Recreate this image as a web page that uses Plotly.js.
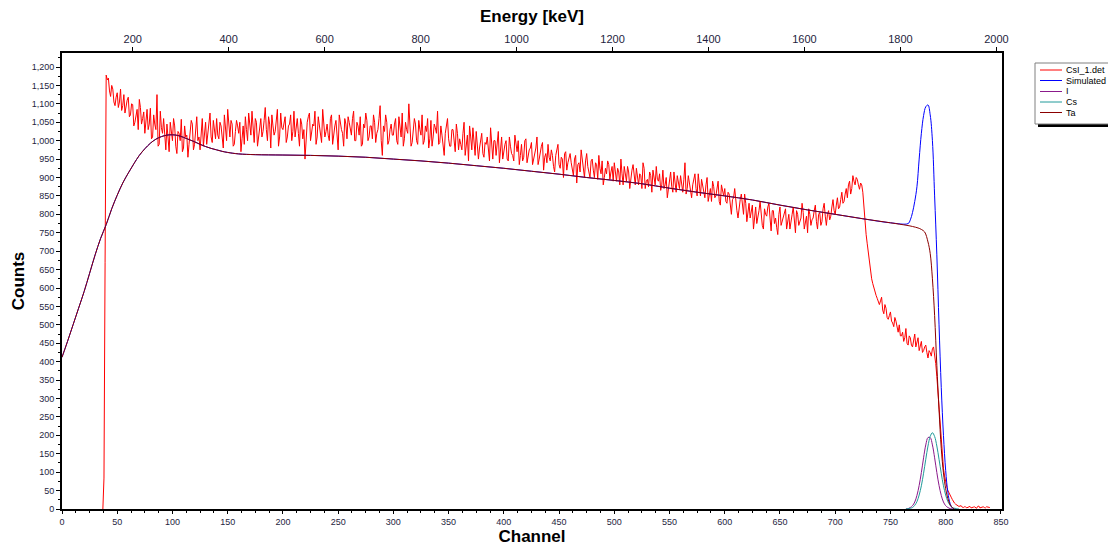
<!DOCTYPE html>
<html>
<head>
<meta charset="utf-8">
<script src="https://cdn.plot.ly/plotly-3.0.1.min.js"></script>
<style>
  html, body { margin: 0; padding: 0; background: #ffffff; }
  #chart { width: 1108px; height: 546px; }
</style>
</head>
<body>
<div id="chart"></div>
<script>
// ---------------- DATA ----------------
// Measured spectrum CsI_1.det: leading edge channels
const measHeadCh = [37, 38, 39];
const measHeadY  = [0, 84, 670];
// Measured spectrum, even channels 40..840 (10 values per row = 20 channels)
const measEvenStart = 40;
const measEvenY = [
  1178,1170,1120,1140,1095,1130,1105,1082,1125,1100, // 40
  1118,1070,1098,1050,1085,1112,1045,1078,1060,1030, // 60
  1088,1010,1045,1125, 990,1035,1060, 975,1015,1050, // 80
  1000,1040, 965,1020,1058, 980,1010, 955,1030,1045, // 100
   990,1065,1010,1035, 985,1050,1020,1075, 995,1030, // 120
  1060,1005,1040, 980,1025,1085,1010,1045, 990,1055, // 140
  1020, 970,1040,1065,1000,1030,1080, 995,1050,1015, // 160
  1060,1025,1090,1000,1045,1070,1015,1050, 985,1075, // 180
  1030,1065,1010,1045,1000,1080,1040,1020,1060,1005, // 200
   950,1050,1075,1020,1040, 990,1065,1030,1085,1010, // 220
  1045,1000,1070,1025,1055, 975,1040,1020,1060,1005, // 240
  1050,1015,1080,1000,1040,1065, 990,1035,1055,1010, // 260
  1040,1070, 995,1030,1095, 960,1025,1050,1000,1045, // 280
  1015,1060, 990,1040,1075,1005,1030,1100, 985,1020, // 300
  1045, 990,1030,1070,1000,1025, 980,1055,1010,1035, // 320
  1080, 995,1015, 960,1040,1005, 985,1030, 970,1020, // 340
  1005, 975,1050, 990, 945,1010,1035, 960, 995, 980, // 360
  1020, 955, 990, 970,1035, 950,1000, 985, 940,1010, // 380
   975,1000, 945, 985, 960,1015, 970, 935, 990, 955, // 400
  1005, 960, 980, 935, 970,1010, 950, 985, 920, 965, // 420
   990, 945, 960, 915, 975, 935, 955, 900, 970, 940, // 440
   965, 920, 950, 885, 940, 975, 915, 945, 930, 900, // 460
   950, 900, 935, 960, 910, 880, 925, 945, 895, 930, // 480
   940, 890, 915, 950, 880, 905, 930, 870, 920, 895, // 500
   925, 880, 905, 940, 870, 895, 915, 860, 905, 930, // 520
   890, 865, 920, 880, 845, 900, 875, 915, 860, 885, // 540
   905, 860, 940, 870, 885, 845, 895, 870, 910, 850, // 560
   880, 845, 900, 860, 835, 875, 850, 890, 825, 865, // 580
   870, 830, 855, 800, 845, 825, 790, 840, 815, 855, // 600
   780, 830, 805, 760, 820, 790, 835, 770, 815, 795, // 620
   830, 755, 810, 790, 745, 820, 780, 805, 760, 800, // 640
   775, 820, 750, 800, 785, 830, 760, 795, 815, 770, // 660
   790, 825, 760, 805, 780, 830, 770, 810, 795, 840, // 680
   800, 845, 820, 860, 835, 870, 880, 855, 905, 880, // 700
   895, 868, 880, 815, 745, 695, 640, 612, 585, 572, // 720
   555, 575, 530, 545, 515, 535, 505, 520, 490, 500, // 740
   470, 455, 490, 445, 465, 440, 475, 450, 430, 455, // 760
   430, 445, 410, 425, 435, 420, 360, 270, 180, 110, // 780
    72,  50,  38,  26,  16,  11,   7,   9,   4,   6, // 800
     4,   7,   3,   6,   2,   8,   4,   6,   3,   5,   4 // 820..840
];
// Measured spectrum, odd channels 41..839 (10 values per row = 20 channels)
const measOddStart = 41;
const measOddY = [
  1165,1135,1150,1105,1118,1090,1140,1095,1075,1110, // 41
  1065,1100,1040,1075,1030,1090,1060,1020,1085,1045, // 61
  1005,1070,1030, 985,1080,1020,1000,1045, 970,1030, // 81
  1060, 985,1025,1000, 970,1040,1015, 990,1055, 975, // 101
  1045,1000, 975,1060,1020, 990,1040,1010,1055,1005, // 121
  1015,1050, 995,1070,1000,1030,1055, 985,1025,1040, // 141
  1050,1005, 990,1030,1075,1015,1040,1060, 985,1045, // 161
  1010,1055,1030,1065, 980,1040,1025,1085,1010,1035, // 181
  1055, 995,1040,1070,1025,1010,1060, 985,1045,1030, // 201
  1020,1065,1000,1045,1080,1010,1040, 995,1055,1025, // 221
  1015,1060, 990,1040,1005,1070,1030, 985,1045,1065, // 241
  1025,1060,1000,1050,1015, 985,1045,1075,1000,1040, // 261
  1005,1050,1020,1060,1000,1040,1070, 990,1030,1015, // 281
  1045,1000,1065,1010, 985,1050,1020,1040, 995,1060, // 301
  1000,1055,1015, 990,1040,1060,1005, 985,1045,1020, // 321
   990,1040, 975,1020,1060, 985,1030,1005,1045, 975, // 341
   990,1020, 960,1015,1040, 975,1000,1025, 950,1010, // 361
   965, 995,1010, 945, 980,1000, 960,1025, 970, 950, // 381
   990, 950,1010, 965, 945, 985,1000, 960, 945,1000, // 401
   940, 975, 995, 950, 980, 935, 970, 995, 955, 940, // 421
   955, 975, 930, 960, 990, 925, 950, 965, 920, 955, // 441
   940, 905, 960, 935, 915, 950, 900, 965, 910, 945, // 461
   920, 940, 895, 925, 945, 900, 910, 935, 915, 890, // 481
   915, 925, 880, 910, 930, 890, 915, 900, 935, 880, // 501
   900, 910, 870, 925, 890, 875, 905, 920, 880, 895, // 521
   910, 880, 870, 900, 875, 915, 860, 890, 905, 870, // 541
   880, 895, 855, 905, 860, 880, 910, 850, 875, 895, // 561
   860, 880, 835, 870, 890, 845, 865, 835, 880, 850, // 581
   835, 860, 820, 840, 870, 810, 825, 855, 800, 830, // 601
   815, 790, 825, 800, 775, 810, 795, 760, 800, 820, // 621
   790, 810, 775, 765, 800, 770, 795, 815, 780, 760, // 641
   800, 785, 810, 770, 790, 805, 780, 750, 800, 785, // 661
   810, 780, 800, 770, 815, 795, 800, 785, 820, 810, // 681
   825, 815, 840, 830, 855, 845, 890, 870, 890, 900, // 701
   880, 885, 860, 785, 720, 665, 625, 600, 580, 560, // 721
   565, 540, 555, 520, 525, 510, 495, 510, 480, 470, // 741
   480, 465, 450, 470, 445, 460, 440, 465, 445, 425, // 761
   440, 425, 430, 415, 440, 395, 315, 225, 145,  90, // 781
    60,  45,  32,  20,  13,   9,   8,   5,   6,   3, // 801
     6,   3,   5,   4,   7,   3,   5,   4,   6,   3  // 821
];

// Ta component
const taCh = [0,5,10,15,20,25,30,35,40,45,50,55,60,65,70,75,80,85,90,95,100,105,110,115,120,125,130,135,140,145,150,160,175,200,225,250,275,300,325,350,375,400,425,450,475,500,525,550,575,600,625,650,675,700,725,750,765,770,775,778,781,784,786,788,790,792,794,796,798,800,802,804,806,808];
const taY  = [412,455,500,545,590,640,690,735,772,815,852,885,912,937,960,978,993,1004,1011,1015,1016,1014,1009,1003,997,990,984,979,975,971,968,964,962,961,960,958,955,950,945,939,932,925,917,909,900,892,883,871,860,850,839,825,812,800,788,777,770,767,763,759,752,725,694,625,525,390,269,165,98,55,28,12,4,0];

// Simulated total: follows Ta below channel 765, then the peak region
const simPeakCh = [766,768,770,772,774,776,778,780,782,784,786,788,790,792,794,796,798,800,802,804,806,808];
const simPeakY  = [775,785,805,835,875,950,1020,1068,1092,1097,1070,1000,850,690,500,330,200,105,45,15,3,0];

// I component
const iCh = [764,766,768,770,772,774,776,778,780,782,784,786,788,790,792,794,796,798,800,802,804,806];
const iY  = [0,1,4,9,19,37,64,99,139,174,194,194,174,139,99,64,37,19,9,4,1,0];

// Cs component
const csCh = [764,766,768,770,772,774,776,778,780,782,784,786,788,790,792,794,796,798,800,802,804,806,808,810,812];
const csY  = [0,1,2,4,10,20,38,63,97,135,171,197,207,197,171,135,97,63,38,20,10,4,2,1,0];

// Series names and colours (legend)
const seriesNames  = ['CsI_1.det', 'Simulated', 'I', 'Cs', 'Ta'];
const seriesColors = ['#ff0000', '#0000ff', '#8b1a8b', '#209a9a', '#8b0000'];

// Energy calibration for top axis (keV at channel 0 and keV per channel)
const energyAt0 = 52.7;
const kevPerCh = 2.302;
const chMax = 851;

// ---------------- BUILD ----------------
const measCh = measHeadCh.slice();
const measAllY = measHeadY.slice();
measEvenY.forEach((v, i) => {
  measCh.push(measEvenStart + 2 * i); measAllY.push(v);
  if (i < measOddY.length) { measCh.push(measOddStart + 2 * i); measAllY.push(measOddY[i]); }
});

const simCh = [], simY = [];
taCh.forEach((c, i) => { if (c < 765) { simCh.push(c); simY.push(taY[i]); } });
simPeakCh.forEach((c, i) => { simCh.push(c); simY.push(simPeakY[i]); });

const seriesX = [measCh, simCh, iCh, csCh, taCh];
const seriesY = [measAllY, simY, iY, csY, taY];

const traces = seriesNames.map((n, k) => ({
  x: seriesX[k], y: seriesY[k], name: n, type: 'scatter', mode: 'lines',
  line: {color: seriesColors[k], width: 1, shape: k === 0 ? 'linear' : 'spline'},
  showlegend: false
}));
traces.push({x: [], y: [], xaxis: 'x2', yaxis: 'y', showlegend: false, hoverinfo: 'skip', type: 'scatter', mode: 'lines'});

// ---- plot-area geometry (pixels) for the hand-drawn legend box ----
const M = {l: 62, r: 106, t: 53, b: 37};
const W = 1108, H = 546;
const pw = W - M.l - M.r, ph = H - M.t - M.b;
const px = p => (p - M.l) / pw;
const py = p => (H - M.b - p) / ph;

const shapes = [
  {type: 'rect', xref: 'paper', yref: 'paper', x0: px(1038), x1: px(1112), y0: py(67), y1: py(127),
   fillcolor: '#000000', line: {width: 0}, layer: 'above'},
  {type: 'rect', xref: 'paper', yref: 'paper', x0: px(1035), x1: px(1109), y0: py(63), y1: py(124),
   fillcolor: '#ffffff', line: {color: '#808080', width: 1}, layer: 'above'}
];
const annotations = [];
const rowY = [70, 80.5, 91.5, 102, 112.5];
seriesNames.forEach((n, k) => {
  shapes.push({type: 'line', xref: 'paper', yref: 'paper', x0: px(1040), x1: px(1062), y0: py(rowY[k]), y1: py(rowY[k]),
    line: {color: seriesColors[k], width: 1}, layer: 'above'});
  annotations.push({xref: 'paper', yref: 'paper', x: px(1064), y: py(rowY[k]), xanchor: 'left', yanchor: 'middle',
    text: n, showarrow: false, font: {family: 'Liberation Sans, Arial, sans-serif', size: 9, color: '#000000'}});
});

const tickFont = {family: 'Liberation Sans, Arial, sans-serif', size: 9, color: '#1e1e40'};
const topTickFont = {family: 'Liberation Sans, Arial, sans-serif', size: 11, color: '#1e1e40'};
const titleFont = {family: 'Liberation Sans, Arial, sans-serif', size: 17, color: '#000000', weight: 'bold'};

const layout = {
  width: W, height: H,
  margin: {l: M.l, r: M.r, t: M.t, b: M.b, autoexpand: false},
  paper_bgcolor: '#ffffff', plot_bgcolor: '#ffffff',
  showlegend: false,
  shapes: shapes,
  annotations: annotations,
  xaxis: {
    range: [0, chMax], dtick: 50, tick0: 0,
    showgrid: false, zeroline: false,
    showline: true, linecolor: '#000000', linewidth: 2, mirror: true,
    ticks: 'outside', ticklen: 3, tickcolor: '#000000', tickwidth: 1,
    minor: {dtick: 12.5, ticks: 'outside', ticklen: 2, tickcolor: '#000000'},
    tickfont: tickFont,
    title: {text: 'Channel', font: titleFont, standoff: 3}
  },
  xaxis2: {
    overlaying: 'x', side: 'top', anchor: 'y',
    range: [energyAt0, energyAt0 + chMax * kevPerCh], dtick: 200, tick0: 0,
    showgrid: false, zeroline: false,
    showline: true, linecolor: '#000000', linewidth: 2,
    ticks: 'outside', ticklen: 4, tickcolor: '#000000',
    tickfont: topTickFont,
    title: {text: 'Energy [keV]', font: titleFont, standoff: 6}
  },
  yaxis: {
    range: [0, 1238], dtick: 50, tick0: 0, tickformat: ',d',
    showgrid: false, zeroline: false,
    showline: true, linecolor: '#000000', linewidth: 2, mirror: true,
    ticks: 'outside', ticklen: 4, tickcolor: '#000000',
    minor: {dtick: 25, ticks: 'outside', ticklen: 2, tickcolor: '#000000'},
    tickfont: tickFont,
    title: {text: 'Counts', font: titleFont, standoff: 3}
  }
};

Plotly.newPlot('chart', traces, layout, {displayModeBar: false, staticPlot: true});
</script>
</body>
</html>
